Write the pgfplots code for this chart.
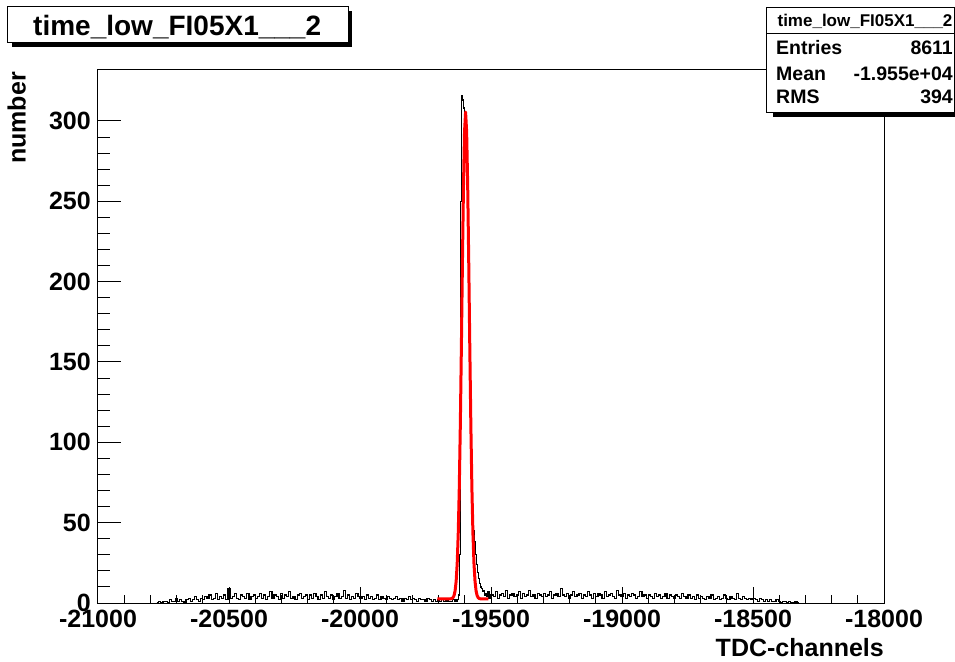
\documentclass[border=0pt]{standalone}
\usepackage{pgfplots}
\pgfplotsset{compat=1.18}
\usepackage{fontspec}
\setmainfont{Liberation Sans}
\begin{document}
\begin{tikzpicture}
\useasboundingbox (-98pt,-58pt) rectangle (857pt,603pt);
\begin{axis}[
  at={(0pt,0pt)}, anchor=south west,
  scale only axis, width=786pt, height=533pt,
  xmin=-21000, xmax=-18000, ymin=0, ymax=331.7,
  scaled x ticks=false, scaled y ticks=false,
  axis line style={black, line width=1pt},
  tick pos=left, tick align=inside,
  tick style={black, line width=1pt},
  x tick style={/pgfplots/major tick length=16pt, /pgfplots/minor tick length=8pt},
  y tick style={/pgfplots/major tick length=23.5pt, /pgfplots/minor tick length=12pt},
  xtick={-21000,-20500,-20000,-19500,-19000,-18500,-18000},
  xticklabels={-21000,-20500,-20000,-19500,-19000,-18500,-18000},
  ytick={0,50,100,150,200,250,300},
  yticklabels={0,50,100,150,200,250,300},
  minor x tick num=4, minor y tick num=4,
  ticklabel style={font=\fontsize{25}{25}\selectfont\bfseries, inner sep=0pt},
  xticklabel style={anchor=north, yshift=-7pt},
  yticklabel style={anchor=east, xshift=-7pt},
  xlabel={TDC-channels},
  xlabel style={at={(rel axis cs:1,0)}, anchor=north east, yshift=-35pt, inner sep=0pt, font=\fontsize{25}{25}\selectfont\bfseries},
  ylabel={number},
  ylabel style={at={(rel axis cs:-0.0916,0.9962)}, rotate=0, anchor=south east, inner sep=0pt, font=\fontsize{25}{25}\selectfont\bfseries},
]
% black histogram
\addplot[black, line width=1.2pt, const plot, mark=none] coordinates {
(-20776,0)
(-20768,1)(-20760,0)(-20752,1)(-20744,1)(-20736,0)(-20728,2)(-20720,1)(-20712,1)(-20704,3)(-20696,1)(-20688,2)(-20680,1)(-20672,0)(-20664,2)(-20656,3)(-20648,1)(-20640,2)(-20632,4)(-20624,2)(-20616,1)(-20608,3)
(-20600,2)(-20592,4)(-20584,3)(-20576,5)(-20568,2)(-20560,3)(-20552,6)(-20544,2)(-20536,4)(-20528,3)(-20520,5)(-20512,2)(-20504,9)(-20496,3)(-20488,4)(-20480,6)(-20472,3)(-20464,2)(-20456,5)(-20448,4)(-20440,3)(-20432,6)(-20424,2)(-20416,4)(-20408,5)(-20400,3)
(-20392,4)(-20384,6)(-20376,3)(-20368,5)(-20360,2)(-20352,4)(-20344,7)(-20336,3)(-20328,5)(-20320,4)(-20312,2)(-20304,6)(-20296,3)(-20288,5)(-20280,4)(-20272,7)(-20264,3)(-20256,4)(-20248,2)(-20240,5)(-20232,6)(-20224,3)(-20216,4)(-20208,5)(-20200,2)
(-20192,5)(-20184,3)(-20176,6)(-20168,4)(-20160,2)(-20152,5)(-20144,3)(-20136,7)(-20128,4)(-20120,3)(-20112,5)(-20104,2)(-20096,4)(-20088,6)(-20080,3)(-20072,4)(-20064,8)(-20056,3)(-20048,5)(-20040,2)(-20032,4)(-20024,3)(-20016,6)(-20008,4)(-20000,3)
(-19992,4)(-19984,2)(-19976,5)(-19968,3)(-19960,4)(-19952,2)(-19944,3)(-19936,5)(-19928,2)(-19920,4)(-19912,3)(-19904,2)(-19896,4)(-19888,3)(-19880,2)(-19872,3)(-19864,4)(-19856,2)(-19848,3)(-19840,1)(-19832,3)(-19824,2)(-19816,4)(-19808,2)(-19800,3)
(-19792,2)(-19784,1)(-19776,3)(-19768,2)(-19760,2)(-19752,1)(-19744,3)(-19736,2)(-19728,1)(-19720,2)(-19712,1)(-19704,2)(-19696,1)(-19688,3)(-19680,1)(-19672,2)(-19664,1)(-19656,1)(-19648,2)
(-19640,1)(-19636,2)(-19632,1)(-19628,2)(-19624,5)(-19620,30)(-19616,250)(-19612,316)(-19608,313)(-19604,308)(-19600,300)(-19596,290)(-19592,262)(-19588,215)(-19584,165)(-19580,120)(-19576,95)(-19572,55)(-19568,45)(-19564,38)(-19560,30)(-19556,24)(-19552,19)(-19548,15)(-19544,12)(-19540,10)(-19536,9)(-19532,7)(-19528,8)(-19524,5)(-19520,6)(-19516,4)(-19512,7)(-19508,3)(-19504,5)
(-19500,5)(-19492,4)(-19484,7)(-19476,3)(-19468,5)(-19460,6)(-19452,4)(-19444,8)(-19436,3)(-19428,5)(-19420,6)(-19412,4)(-19404,5)(-19396,7)(-19388,3)(-19380,6)(-19372,4)(-19364,5)(-19356,8)(-19348,4)(-19340,5)(-19332,3)(-19324,6)(-19316,5)(-19308,4)
(-19300,6)(-19292,4)(-19284,5)(-19276,7)(-19268,3)(-19260,5)(-19252,6)(-19244,4)(-19236,9)(-19228,5)(-19220,4)(-19212,6)(-19204,3)(-19196,5)(-19188,7)(-19180,4)(-19172,5)(-19164,6)(-19156,3)(-19148,5)(-19140,4)(-19132,7)(-19124,5)(-19116,3)(-19108,6)
(-19100,4)(-19092,6)(-19084,5)(-19076,3)(-19068,7)(-19060,4)(-19052,5)(-19044,6)(-19036,4)(-19028,3)(-19020,8)(-19012,5)(-19004,4)(-18996,6)(-18988,3)(-18980,5)(-18972,4)(-18964,6)(-18956,5)(-18948,3)(-18940,4)(-18932,7)(-18924,4)(-18916,5)(-18908,3)
(-18900,5)(-18892,4)(-18884,3)(-18876,6)(-18868,4)(-18860,5)(-18852,3)(-18844,4)(-18836,6)(-18828,3)(-18820,5)(-18812,4)(-18804,3)(-18796,5)(-18788,4)(-18780,3)(-18772,6)(-18764,4)(-18756,3)(-18748,5)(-18740,3)(-18732,4)(-18724,2)(-18716,5)(-18708,3)
(-18700,4)(-18692,3)(-18684,2)(-18676,4)(-18668,3)(-18660,5)(-18652,2)(-18644,3)(-18636,4)(-18628,2)(-18620,3)(-18612,5)(-18604,3)(-18596,2)(-18588,4)(-18580,3)(-18572,2)(-18564,6)(-18556,3)(-18548,2)(-18540,4)(-18532,3)(-18524,2)(-18516,3)(-18508,2)
(-18500,3)(-18492,2)(-18484,1)(-18476,3)(-18468,2)(-18460,1)(-18452,2)(-18444,1)(-18436,2)(-18428,1)(-18420,1)(-18412,2)(-18404,1)(-18396,0)(-18388,1)(-18380,1)(-18372,0)(-18364,1)(-18356,0)(-18348,0)(-18340,1)(-18332,0)
(-18324,0)
};
% red fit
\addplot[red, line width=3pt, line join=round, mark=none] coordinates {
(-19705,2.5)(-19657,2.5)(-19649,2.8)(-19645,3.35)(-19641,4.67)(-19637,7.6)(-19633,13.6)(-19629,24.7)(-19625,43.5)(-19621,72.2)(-19617,111.7)(-19613,160.1)(-19609,212.5)(-19605,259.8)(-19601,293.4)(-19597,305.5)(-19593,293.4)(-19589,259.8)(-19585,212.5)(-19581,160.1)(-19577,111.7)(-19573,72.2)(-19569,43.5)(-19565,24.7)(-19561,13.6)(-19557,7.6)(-19553,4.67)(-19549,3.35)(-19545,2.8)(-19537,2.5)(-19510,2.5)
};
\end{axis}
% title box
\fill[black] (-86pt,556pt) rectangle (254pt,592pt);
\draw[black, line width=1pt, fill=white] (-90pt,560pt) rectangle (250pt,596pt);
\node[anchor=base west, inner sep=0pt, font=\fontsize{28}{28}\selectfont\bfseries] at (-65pt,567pt) {time\_low\_FI05X1\_\_\_2};
% stats box
\fill[black] (675pt,486pt) rectangle (861pt,591pt);
\draw[black, line width=1pt, fill=white] (668pt,490pt) rectangle (856pt,595pt);
\draw[black, line width=1pt] (668pt,569pt) -- (856pt,569pt);
\node[anchor=base, inner sep=0pt, font=\fontsize{17}{17}\selectfont\bfseries] at (767pt,576pt) {time\_low\_FI05X1\_\_\_2};
\node[anchor=base west, inner sep=0pt, font=\fontsize{19.5}{19.5}\selectfont\bfseries] at (678pt,548pt) {Entries};
\node[anchor=base east, inner sep=0pt, font=\fontsize{19.5}{19.5}\selectfont\bfseries] at (855pt,548pt) {8611};
\node[anchor=base west, inner sep=0pt, font=\fontsize{19.5}{19.5}\selectfont\bfseries] at (678pt,522pt) {Mean};
\node[anchor=base east, inner sep=0pt, font=\fontsize{19.5}{19.5}\selectfont\bfseries] at (855pt,522pt) {-1.955e+04};
\node[anchor=base west, inner sep=0pt, font=\fontsize{19.5}{19.5}\selectfont\bfseries] at (678pt,499pt) {RMS};
\node[anchor=base east, inner sep=0pt, font=\fontsize{19.5}{19.5}\selectfont\bfseries] at (855pt,499pt) {394};
\end{tikzpicture}
\end{document}
